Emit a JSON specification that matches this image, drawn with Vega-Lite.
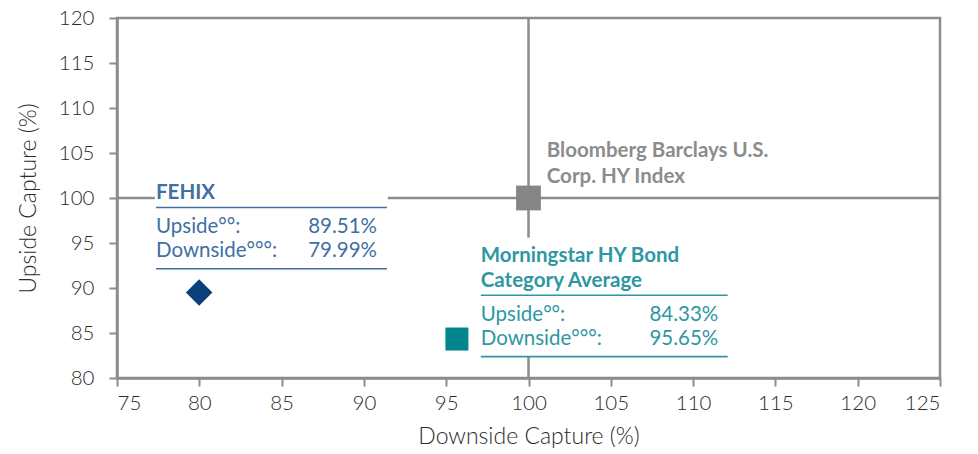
{
  "$schema": "https://vega.github.io/schema/vega-lite/v6.json",
  "width": 823,
  "height": 360,
  "autosize": {"type": "none"},
  "padding": {"left": 117, "top": 18, "right": 38, "bottom": 76},
  "background": "white",
  "config": {
    "font": "Lato",
    "view": {"stroke": "#8c8c8c", "strokeWidth": 2.5},
    "axis": {
      "domainColor": "#8c8c8c",
      "domainWidth": 2.5,
      "tickColor": "#8c8c8c",
      "tickWidth": 2,
      "tickSize": 8,
      "grid": false,
      "labelFont": "Lato",
      "labelFontSize": 20.5,
      "labelFontWeight": 300,
      "labelColor": "#2b2b2b",
      "titleFont": "Lato",
      "titleFontSize": 23,
      "titleFontWeight": 300,
      "titleColor": "#2b2b2b"
    }
  },
  "datasets": {
    "crosshair": [
      {"x": 75, "x2": 77.3, "y": 100, "y2": 100},
      {"x": 91.45, "x2": 125, "y": 100, "y2": 100},
      {"x": 100, "x2": 100, "y": 120, "y2": 95.6},
      {"x": 100, "x2": 100, "y": 82.37, "y2": 80}
    ],
    "underlines": [
      {"group": "FEHIX", "x": 77.37, "x2": 91.4, "y": 98.94, "y2": 98.94},
      {"group": "FEHIX", "x": 77.37, "x2": 91.4, "y": 92.14, "y2": 92.14},
      {"group": "Morningstar", "x": 97.1, "x2": 112.1, "y": 89.19, "y2": 89.19},
      {"group": "Morningstar", "x": 97.1, "x2": 112.1, "y": 82.37, "y2": 82.37}
    ],
    "points": [
      {"group": "FEHIX", "x": 79.99, "y": 89.51},
      {"group": "Index", "x": 100, "y": 100},
      {"group": "Morningstar", "x": 95.65, "y": 84.33}
    ],
    "labels": [
      {"group": "FEHIX", "style": "title", "text": "FEHIX", "x": 77.37, "y": 99.89},
      {"group": "FEHIX", "style": "left", "text": "Upside°°:", "x": 77.37, "y": 96.11},
      {"group": "FEHIX", "style": "right", "text": "89.51%", "x": 90.8, "y": 96.11},
      {"group": "FEHIX", "style": "left", "text": "Downside°°°:", "x": 77.37, "y": 93.44},
      {"group": "FEHIX", "style": "right", "text": "79.99%", "x": 90.8, "y": 93.44},
      {"group": "Index", "style": "title", "text": "Bloomberg Barclays U.S.", "x": 101.11, "y": 104.52},
      {"group": "Index", "style": "title", "text": "Corp. HY Index", "x": 101.11, "y": 101.7},
      {"group": "Morningstar", "style": "title", "text": "Morningstar HY Bond", "x": 97.1, "y": 92.92},
      {"group": "Morningstar", "style": "title", "text": "Category Average", "x": 97.1, "y": 90.14},
      {"group": "Morningstar", "style": "left", "text": "Upside°°:", "x": 97.1, "y": 86.37},
      {"group": "Morningstar", "style": "right", "text": "84.33%", "x": 111.53, "y": 86.37},
      {"group": "Morningstar", "style": "left", "text": "Downside°°°:", "x": 97.1, "y": 83.67},
      {"group": "Morningstar", "style": "right", "text": "95.65%", "x": 111.53, "y": 83.67}
    ]
  },
  "layer": [
    {
      "data": {"name": "crosshair"},
      "mark": {"type": "rule", "color": "#8c8c8c", "strokeWidth": 2.5},
      "encoding": {
        "x": {"field": "x", "type": "quantitative", "scale": {"domain": [75, 125], "nice": false, "zero": false},
              "axis": {"values": [75, 80, 85, 90, 95, 100, 105, 110, 115, 120, 125], "labelPadding": 7, "titlePadding": 12},
              "title": "Downside Capture (%)"},
        "x2": {"field": "x2"},
        "y": {"field": "y", "type": "quantitative", "scale": {"domain": [80, 120], "nice": false, "zero": false},
              "axis": {"values": [80, 85, 90, 95, 100, 105, 110, 115, 120], "labelPadding": 15, "titlePadding": 18},
              "title": "Upside Capture (%)"},
        "y2": {"field": "y2"}
      }
    },
    {
      "data": {"name": "underlines"},
      "mark": {"type": "rule", "strokeWidth": 1.6},
      "encoding": {
        "x": {"field": "x", "type": "quantitative"},
        "x2": {"field": "x2"},
        "y": {"field": "y", "type": "quantitative"},
        "y2": {"field": "y2"},
        "color": {"field": "group", "type": "nominal", "legend": null,
                  "scale": {"domain": ["FEHIX", "Index", "Morningstar"], "range": ["#3f6fa3", "#8c8c8c", "#2f96a3"]}}
      }
    },
    {
      "data": {"name": "points"},
      "mark": {"type": "point", "filled": true, "opacity": 1},
      "encoding": {
        "x": {"field": "x", "type": "quantitative"},
        "y": {"field": "y", "type": "quantitative"},
        "shape": {"field": "group", "type": "nominal", "legend": null,
                  "scale": {"domain": ["FEHIX", "Index", "Morningstar"], "range": ["diamond", "square", "square"]}},
        "size": {"field": "group", "type": "nominal", "legend": null,
                 "scale": {"domain": ["FEHIX", "Index", "Morningstar"], "range": [700, 529, 500]}},
        "fill": {"field": "group", "type": "nominal", "legend": null,
                 "scale": {"domain": ["FEHIX", "Index", "Morningstar"], "range": ["#0b3f7a", "#858585", "#00868c"]}}
      }
    },
    {
      "data": {"name": "labels"},
      "transform": [{"filter": "datum.style === 'title'"}],
      "mark": {"type": "text", "align": "left", "baseline": "alphabetic", "fontSize": 20.5, "fontWeight": "bold"},
      "encoding": {
        "x": {"field": "x", "type": "quantitative"},
        "y": {"field": "y", "type": "quantitative"},
        "text": {"field": "text"},
        "color": {"field": "group", "type": "nominal", "legend": null,
                  "scale": {"domain": ["FEHIX", "Index", "Morningstar"], "range": ["#15457d", "#8a8a8a", "#0f7f8c"]}}
      }
    },
    {
      "data": {"name": "labels"},
      "transform": [{"filter": "datum.style === 'left'"}],
      "mark": {"type": "text", "align": "left", "baseline": "alphabetic", "fontSize": 20.5, "fontWeight": "normal"},
      "encoding": {
        "x": {"field": "x", "type": "quantitative"},
        "y": {"field": "y", "type": "quantitative"},
        "text": {"field": "text"},
        "color": {"field": "group", "type": "nominal", "legend": null,
                  "scale": {"domain": ["FEHIX", "Index", "Morningstar"], "range": ["#15457d", "#8a8a8a", "#0f7f8c"]}}
      }
    },
    {
      "data": {"name": "labels"},
      "transform": [{"filter": "datum.style === 'right'"}],
      "mark": {"type": "text", "align": "right", "baseline": "alphabetic", "fontSize": 20.5, "fontWeight": "normal"},
      "encoding": {
        "x": {"field": "x", "type": "quantitative"},
        "y": {"field": "y", "type": "quantitative"},
        "text": {"field": "text"},
        "color": {"field": "group", "type": "nominal", "legend": null,
                  "scale": {"domain": ["FEHIX", "Index", "Morningstar"], "range": ["#15457d", "#8a8a8a", "#0f7f8c"]}}
      }
    }
  ]
}
